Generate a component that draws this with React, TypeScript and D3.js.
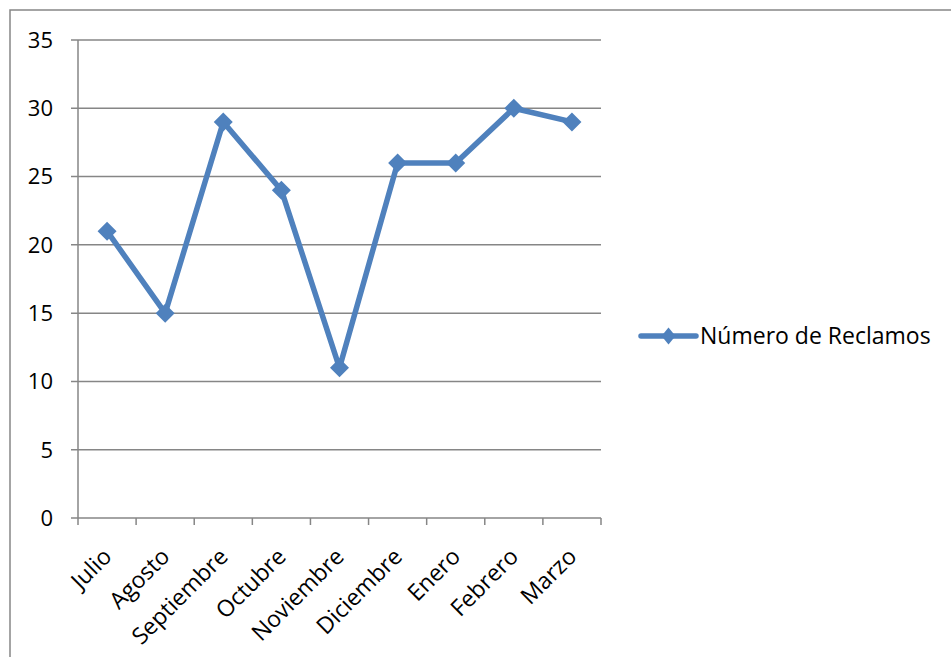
import React from "react";
import * as d3 from "d3";

const months = ["Julio", "Agosto", "Septiembre", "Octubre", "Noviembre", "Diciembre", "Enero", "Febrero", "Marzo"];
const reclamos = [21, 15, 29, 24, 11, 26, 26, 30, 29];
const yTicks = [0, 5, 10, 15, 20, 25, 30, 35];
const seriesName = "Número de Reclamos";

const W = 951;
const H = 657;
const plot = { left: 78, right: 601, top: 40, bottom: 518 };
const FONT = "'Open Sans', 'Noto Sans', sans-serif";
const BLUE = "#4F81BD";
const GRID = "#868686";

export default function App() {
  const x = d3.scaleBand<string>().domain(months).range([plot.left, plot.right]);
  const y = d3.scaleLinear().domain([0, 35]).range([plot.bottom, plot.top]);
  const cx = (m: string) => (x(m) as number) + x.bandwidth() / 2;

  const line = d3
    .line<number>()
    .x((_, i) => cx(months[i]))
    .y((d) => y(d));

  const diamond = (px: number, py: number, rx: number, ry: number) =>
    `M${px},${py - ry}L${px + rx},${py}L${px},${py + ry}L${px - rx},${py}Z`;

  const tickXs = months.map((m) => x(m) as number).concat([plot.right]);

  return (
    <svg
      width={W}
      height={H}
      style={{ position: "absolute", left: 0, top: 0 }}
      fontFamily={FONT}
    >
      <rect x={0} y={0} width={W} height={H} fill="#fff" />
      <rect x={10} y={10} width={W + 20} height={H + 20} fill="none" stroke={GRID} strokeWidth={1.5} />

      {/* horizontal gridlines with outward tick stubs */}
      {yTicks.map((t) => (
        <g key={t}>
          <line x1={plot.left - 7} x2={plot.right} y1={y(t)} y2={y(t)} stroke={GRID} strokeWidth={1.5} />
          <text x={53} y={y(t)} dy="0.36em" textAnchor="end" fontSize={22} fill="#000">
            {t}
          </text>
        </g>
      ))}

      {/* value axis */}
      <line x1={plot.left} x2={plot.left} y1={plot.top} y2={plot.bottom} stroke={GRID} strokeWidth={1.5} />

      {/* category tick marks */}
      {tickXs.map((tx, i) => (
        <line key={i} x1={tx} x2={tx} y1={plot.bottom} y2={plot.bottom + 7} stroke={GRID} strokeWidth={1.5} />
      ))}

      {/* category labels */}
      {months.map((m) => (
        <text
          key={m}
          transform={`translate(${cx(m) + 6},${plot.bottom + 40}) rotate(-45)`}
          textAnchor="end"
          fontSize={23}
          fill="#000"
        >
          {m}
        </text>
      ))}

      {/* series */}
      <path d={line(reclamos) || ""} fill="none" stroke={BLUE} strokeWidth={5.5} strokeLinejoin="round" />
      {reclamos.map((v, i) => (
        <path key={i} d={diamond(cx(months[i]), y(v), 9.5, 9.5)} fill={BLUE} />
      ))}

      {/* legend */}
      <line x1={641} x2={696} y1={336} y2={336} stroke={BLUE} strokeWidth={5.5} strokeLinecap="round" />
      <path d={diamond(668.5, 336, 7, 8.5)} fill={BLUE} />
      <text x={700} y={336} dy="0.36em" fontSize={23} fill="#000">
        {seriesName}
      </text>
    </svg>
  );
}
